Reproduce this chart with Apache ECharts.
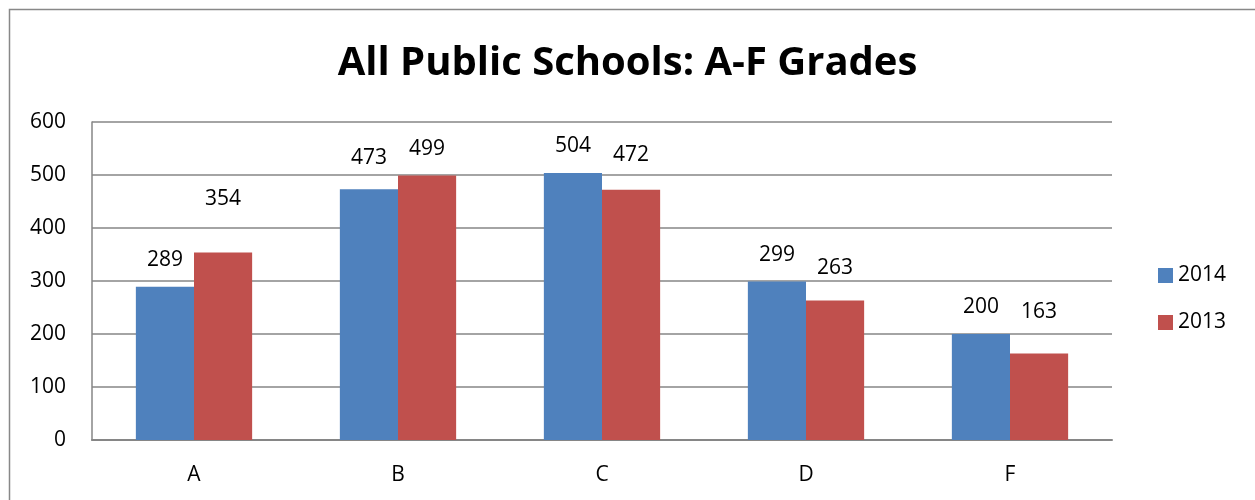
<!DOCTYPE html>
<html>
<head>
<meta charset="utf-8">
<script src="https://cdn.jsdelivr.net/npm/echarts@6/dist/echarts.min.js"></script>
<style>html,body{margin:0;padding:0;background:#fff}#c{width:1255px;height:500px}</style>
</head>
<body>
<div id="c"></div>
<script>
const categories = ['A', 'B', 'C', 'D', 'F'];
const values2014 = [289, 473, 504, 299, 200];
const values2013 = [354, 499, 472, 263, 163];
const seriesNames = ['2014', '2013'];
const yTicks = [0, 100, 200, 300, 400, 500, 600];
// label distances above bars (styling)
const labelDist2014 = [16, 21, 16, 16, 16];
const labelDist2013 = [43, 16, 24, 22, 31];

const FONT = 'Open Sans';
function mk(vals, dists) {
  return vals.map((v, i) => ({ value: v, label: { distance: dists[i] } }));
}
const chart = echarts.init(document.getElementById('c'), null, { renderer: 'canvas' });
chart.setOption({
  animation: false,
  textStyle: { fontFamily: FONT },
  title: {
    text: 'All Public Schools: A-F Grades',
    left: 'center', top: 39,
    textStyle: { fontFamily: FONT, fontSize: 40, fontWeight: 'bold', color: '#000' }
  },
  graphic: [{
    type: 'rect', shape: { x: 9.5, y: 9.5, width: 1260, height: 510 },
    style: { fill: 'none', stroke: '#888', lineWidth: 1.5 }, silent: true
  }],
  legend: {
    orient: 'vertical', left: 1153, top: 260, itemWidth: 15, itemHeight: 15, itemGap: 26,
    icon: 'rect',
    textStyle: { fontFamily: FONT, fontSize: 21, color: '#000' },
    data: seriesNames
  },
  grid: { left: 92, right: 143, top: 122, bottom: 60 },
  xAxis: {
    type: 'category', data: categories,
    axisLine: { lineStyle: { color: '#868686', width: 2 } },
    axisTick: { show: false },
    axisLabel: { fontFamily: FONT, fontSize: 21, color: '#000', margin: 25 }
  },
  yAxis: {
    type: 'value', min: yTicks[0], max: yTicks[yTicks.length - 1], interval: 100,
    axisLine: { show: true, lineStyle: { color: '#868686', width: 1.5 } },
    axisTick: { show: false },
    splitLine: { lineStyle: { color: '#868686', width: 1.5 } },
    axisLabel: { fontFamily: FONT, fontSize: 21, color: '#000', margin: 26 }
  },
  series: [
    {
      name: seriesNames[0], type: 'bar', data: mk(values2014, labelDist2014),
      itemStyle: { color: '#4F81BD' }, barGap: '0%', barCategoryGap: '43%',
      label: { show: true, position: 'top', fontFamily: FONT, fontSize: 21, color: '#000' }
    },
    {
      name: seriesNames[1], type: 'bar', data: mk(values2013, labelDist2013),
      itemStyle: { color: '#C0504D' }, barGap: '0%', barCategoryGap: '43%',
      label: { show: true, position: 'top', fontFamily: FONT, fontSize: 21, color: '#000' }
    }
  ]
});
</script>
</body>
</html>
